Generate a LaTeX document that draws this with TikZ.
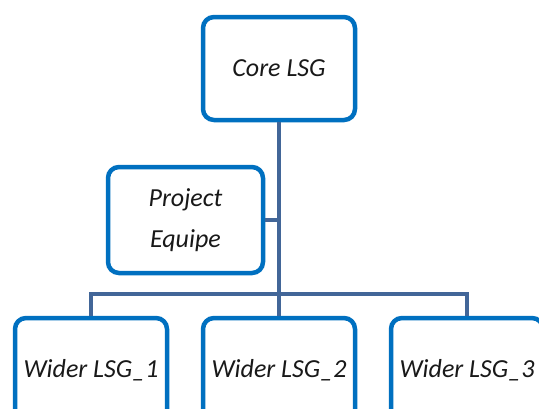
\documentclass[tikz,border=0pt]{standalone}
\usepackage{xcolor}
\usepackage{fontspec}
\usepackage{tikz}
\usetikzlibrary{calc}
\setmainfont{Carlito}
\definecolor{boxblue}{RGB}{0,112,192}
\definecolor{lineblue}{RGB}{66,102,152}
\tikzstyle{lsgbox}=[draw=boxblue, line width=4.5pt, rounded corners=11pt, fill=white,
    minimum width=152pt, minimum height=104pt, align=center, text=black!90,
    font=\fontsize{26}{41}\selectfont\itshape]
\tikzstyle{link}=[draw=lineblue, line width=4.5pt]

\begin{document}
\begin{tikzpicture}[x=1pt, y=-1pt]
            \def\boxy{370}

            \useasboundingbox (0, 0) rectangle (539, 408);
            \clip (0, 0) rectangle (539, 408);

            \coordinate (bus) at (279, 294) {};

            \node [lsgbox, minimum height=103pt] (core) at (279, 68.5) {Core LSG};
            \node [lsgbox, minimum width=155pt, minimum height=106pt] (proj) at (185.5, 220) {Project\\Equipe};

            \node [lsgbox] (wider1) at (91, \boxy) {Wider LSG\_1};
            \node [lsgbox] (wider2) at (279, \boxy) {Wider LSG\_2};
            \node [lsgbox] (wider3) at (467, \boxy) {Wider LSG\_3};

            \draw [link] (core.south) -- (wider2.north);
            \draw [link] (proj.east) -- (proj.east -| core.south);
            \draw [link] (wider1.north) |- (bus) -| (wider3.north);
        \end{tikzpicture}
\end{document}
